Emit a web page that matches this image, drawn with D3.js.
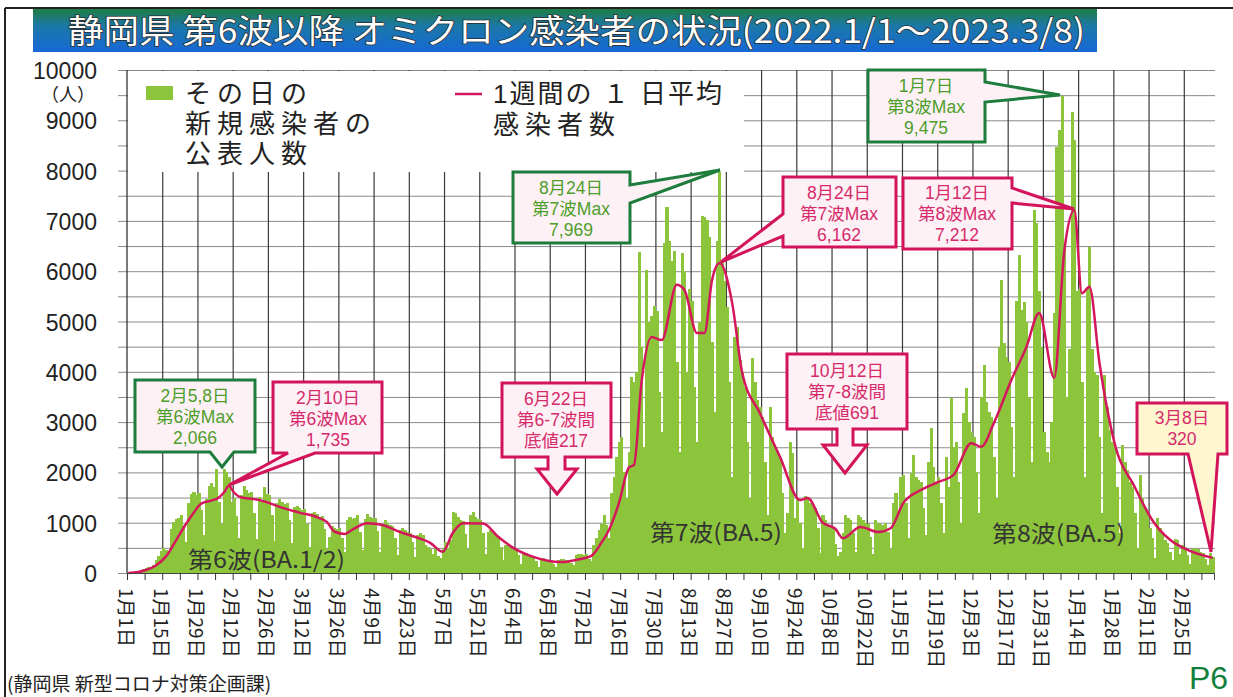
<!DOCTYPE html>
<html lang="ja">
<head>
<meta charset="utf-8">
<script src="https://cdn.jsdelivr.net/npm/d3@7"></script>
<style>
  html, body { margin: 0; padding: 0; background: #fff; }
  svg { display: block; font-family: "Noto Sans CJK JP", "Noto Sans", sans-serif; }
  .tight { font-family: "Liberation Sans", "Noto Sans CJK JP", sans-serif; }
</style>
</head>
<body>
<svg id="chart" width="1233" height="697"></svg>
<script>
// daily new cases from 2022-01-01 (Sat), then Monday-start weeks
const startDate = "2022-01-01";
const dailyCases = [
    5, 8,
    12, 25, 40, 55, 75, 95, 110,               // 1/3
    90, 160, 250, 330, 430, 500, 460,          // 1/10
    420, 880, 1020, 1080, 1100, 1150, 950,     // 1/17
    620, 1400, 1580, 1620, 1560, 1600, 1250,   // 1/24
    760, 1480, 1720, 1780, 1700, 2066, 1420,   // 1/31
    980, 2066, 1999, 1914, 1420, 1500, 1130,   // 2/7
    700, 1560, 1720, 1650, 1600, 1620, 1200,   // 2/14
    680, 1520, 1420, 1700, 1580, 1550, 1150,   // 2/21
    640, 1400, 1480, 1420, 1380, 1400, 1060,   // 2/28
    600, 1320, 1340, 1300, 1260, 1280, 980,    // 3/7
    520, 1200, 1220, 1180, 1120, 1130, 880,    // 3/14
    480, 720, 940, 900, 880, 900, 700,         // 3/21
    420, 1050, 1120, 1080, 1100, 1150, 820,    // 3/28
    450, 1080, 1180, 1120, 1100, 1100, 830,    // 4/4
    420, 980, 1050, 1000, 950, 940, 700,       // 4/11
    360, 850, 900, 860, 820, 800, 610,         // 4/18
    320, 760, 800, 750, 560, 520, 480,         // 4/25
    380, 520, 340, 300, 480, 620, 500,         // 5/2
    650, 1220, 1200, 1120, 1050, 1040, 780,    // 5/9
    480, 1150, 1210, 1120, 1080, 1050, 790,    // 5/16
    380, 820, 850, 800, 760, 740, 520,         // 5/23
    250, 560, 580, 520, 500, 480, 350,         // 5/30
    170, 380, 390, 360, 340, 320, 240,         // 6/6
    110, 270, 290, 230, 220, 240, 170,         // 6/13
    110, 260, 280, 270, 260, 260, 190,         // 6/20
    150, 350, 380, 370, 360, 380, 280,         // 6/27
    230, 560, 700, 850, 980, 1150, 950,        // 7/4
    700, 1600, 1900, 2300, 2600, 2700, 2000,   // 7/11
    1500, 2400, 3900, 3800, 4000, 6380, 4500,  // 7/18
    2500, 6020, 5000, 5100, 5300, 5200, 3600,  // 7/25
    2800, 6560, 7280, 6600, 6200, 6400, 4200,  // 8/1
    2400, 6360, 6000, 4000, 5640, 5400, 3700,  // 8/8
    2600, 5000, 7100, 7080, 7010, 6670, 4600,  // 8/15
    3200, 6600, 7969, 6200, 5800, 5290, 3800,  // 8/22
    1900, 4700, 4900, 4230, 4000, 3700, 2600,  // 8/29
    1500, 4270, 3800, 3440, 3300, 3100, 2200,  // 9/5
    1150, 3300, 2700, 2500, 2400, 2300, 1600,  // 9/12
    800, 1200, 2600, 2390, 1100, 1500, 1000,   // 9/19
    500, 1530, 1500, 1400, 1350, 1300, 900,    // 9/26
    400, 1150, 1050, 950, 900, 880, 580,       // 10/3
    330, 420, 800, 1150, 1100, 1050, 800,      // 10/10
    420, 1150, 1120, 1050, 1000, 980, 720,     // 10/17
    380, 1050, 1000, 980, 950, 1000, 820,      // 10/24
    480, 1400, 1600, 1200, 1900, 1950, 1400,   // 10/31
    700, 1990, 2340, 1900, 1850, 1800, 1300,   // 11/7
    750, 2200, 2880, 2100, 1800, 1900, 1400,   // 11/14
    800, 2300, 1700, 3480, 2500, 2600, 1800,   // 11/21
    1000, 3180, 3680, 3000, 2800, 2700, 2000,  // 11/28
    1200, 3500, 4130, 3400, 3200, 3100, 2300,  // 12/5
    1500, 4500, 5820, 4570, 4300, 4200, 2900,  // 12/12
    1900, 5400, 6320, 5230, 5380, 5000, 3500,  // 12/19
    2200, 7210, 6960, 5600, 4500, 2800, 2400,  // 12/26
    2200, 3000, 5170, 8470, 8800, 9475, 6500,  // 1/2
    3500, 4450, 9170, 8600, 5600, 5650, 3800,  // 1/9
    1900, 5650, 6480, 4450, 4000, 3940, 2700,  // 1/16
    1200, 3940, 3300, 2840, 2600, 2500, 1700,  // 1/23
    800, 2540, 2200, 2040, 1800, 1700, 1200,   // 1/30
    500, 1950, 1500, 1300, 1200, 900, 700,     // 2/6
    300, 1100, 900, 780, 650, 600, 420,        // 2/13
    250, 680, 650, 380, 550, 520, 350,         // 2/20
    180, 480, 500, 470, 420, 400, 280,         // 2/27
    150, 400, 320                              // 3/6
];

// 7-day average
const avgDates = [
    "2022-01-01", "2022-01-05", "2022-01-08", "2022-01-12", "2022-01-16", "2022-01-20",
    "2022-01-23", "2022-01-27", "2022-01-30", "2022-02-03", "2022-02-06", "2022-02-08",
    "2022-02-10", "2022-02-12", "2022-02-15", "2022-02-20", "2022-02-25", "2022-03-03",
    "2022-03-10", "2022-03-17", "2022-03-21", "2022-03-24", "2022-03-28", "2022-03-31",
    "2022-04-06", "2022-04-12", "2022-04-19", "2022-04-26", "2022-05-01", "2022-05-06",
    "2022-05-10", "2022-05-14", "2022-05-22", "2022-05-28", "2022-06-03", "2022-06-11",
    "2022-06-22", "2022-06-28", "2022-07-04", "2022-07-08", "2022-07-11", "2022-07-15",
    "2022-07-19", "2022-07-21", "2022-07-24", "2022-07-28", "2022-08-01", "2022-08-07",
    "2022-08-10", "2022-08-15", "2022-08-18", "2022-08-21", "2022-08-24", "2022-08-29",
    "2022-09-02", "2022-09-09", "2022-09-17", "2022-09-25", "2022-09-28", "2022-10-04",
    "2022-10-09", "2022-10-12", "2022-10-19", "2022-10-26", "2022-10-31", "2022-11-05",
    "2022-11-12", "2022-11-19", "2022-11-25", "2022-12-02", "2022-12-06", "2022-12-11",
    "2022-12-18", "2022-12-24", "2022-12-29", "2023-01-04", "2023-01-08", "2023-01-12",
    "2023-01-15", "2023-01-18", "2023-01-22", "2023-01-28", "2023-02-05", "2023-02-12",
    "2023-02-19", "2023-02-26", "2023-03-08"
];
const avgValues = [
    0, 20, 60, 150, 330, 650,
    900, 1200, 1380, 1440, 1500, 1600,
    1735, 1600, 1500, 1470, 1410, 1300,
    1200, 1110, 1010, 820, 775, 860,
    990, 955, 815, 700, 600, 420,
    800, 990, 985, 720, 500, 320,
    217, 260, 340, 600, 850, 1390,
    2100, 2150, 3800, 4690, 4630, 5730,
    5630, 4770, 4770, 5820, 6162, 5370,
    3980, 3180, 2310, 1450, 1490, 1000,
    880, 691, 915, 815, 890, 1390,
    1650, 1810, 1950, 2580, 2510, 2980,
    3840, 4500, 5170, 3880, 6400, 7212,
    5560, 5690, 4170, 2580, 1710, 1050,
    660, 460, 300
];

const yLabels = [0, 1000, 2000, 3000, 4000, 5000, 6000, 7000, 8000, 9000, 10000];
const tickLabels = [
    "1月1日", "1月15日", "1月29日", "2月12日", "2月26日", "3月12日", "3月26日", "4月9日",
    "4月23日", "5月7日", "5月21日", "6月4日", "6月18日", "7月2日", "7月16日", "7月30日",
    "8月13日", "8月27日", "9月10日", "9月24日", "10月8日", "10月22日", "11月5日", "11月19日",
    "12月3日", "12月17日", "12月31日", "1月14日", "1月28日", "2月11日", "2月25日"
];

const barColor = "#8cc43c";
const lineColor = "#d4175c";
const pink = "#d4145a";
const green = "#1e7d3c";

const svg = d3.select("#chart");
const plotL = 127, plotR = 1214, plotT = 70, plotB = 573;

const x = d3.scaleLinear().domain([0, dailyCases.length]).range([plotL, plotR]);
const y = d3.scaleLinear().domain([0, 10000]).range([plotB, plotT]);
const parse = d3.timeParse("%Y-%m-%d");
const t0 = parse(startDate);

// frame and title
svg.append("line").attr("x1", 5).attr("x2", 1233).attr("y1", 8).attr("y2", 8)
    .attr("stroke", "#222").attr("stroke-width", 2);
svg.append("line").attr("x1", 5).attr("x2", 5).attr("y1", 8).attr("y2", 697)
    .attr("stroke", "#222").attr("stroke-width", 2);

const grad = svg.append("defs").append("linearGradient")
    .attr("id", "banner").attr("x1", 0).attr("x2", 0).attr("y1", 0).attr("y2", 1);
grad.append("stop").attr("offset", "0%").attr("stop-color", "#1f7d45");
grad.append("stop").attr("offset", "40%").attr("stop-color", "#1b78a8");
grad.append("stop").attr("offset", "100%").attr("stop-color", "#1768d6");

svg.append("rect").attr("x", 33).attr("y", 9).attr("width", 1064).attr("height", 43)
    .attr("fill", "url(#banner)");
svg.append("text")
    .attr("x", 68).attr("y", 43)
    .attr("font-size", 33)
    .attr("fill", "#fff")
    .attr("stroke", "#2a2a2a").attr("stroke-width", 1.5)
    .attr("paint-order", "stroke")
    .attr("textLength", 1017).attr("lengthAdjust", "spacingAndGlyphs")
    .text("静岡県 第6波以降 オミクロン感染者の状況(2022.1/1～2023.3/8)");

// grid
svg.append("g")
    .attr("transform", `translate(118,0)`)
    .call(d3.axisLeft(y).tickValues(d3.range(0, 10001, 500)).tickSize(-(plotR + 1 - 118)).tickFormat(""))
    .call(g => g.select(".domain").remove())
    .call(g => g.selectAll("line").attr("stroke", "#8a8a8a").attr("stroke-width", 1));

svg.append("g")
    .attr("transform", `translate(0,${plotB})`)
    .call(d3.axisBottom(x).tickValues(d3.range(14, 421, 14)).tickSize(-(plotB - plotT)).tickFormat(""))
    .call(g => g.select(".domain").remove())
    .call(g => g.selectAll("line").attr("stroke", "#3a3a3a").attr("stroke-width", 1.2));

// bars
svg.append("g")
    .attr("shape-rendering", "crispEdges")
    .selectAll("rect")
    .data(dailyCases)
    .join("rect")
    .attr("x", (d, i) => x(i))
    .attr("y", d => y(d))
    .attr("width", (d, i) => x(i + 1) - x(i) + 0.6)
    .attr("height", d => plotB - y(d))
    .attr("fill", barColor);

// average line
const avgData = avgDates.map((d, i) => ({ day: d3.timeDay.count(t0, parse(d)), v: avgValues[i] }));
svg.append("path")
    .datum(avgData)
    .attr("fill", "none")
    .attr("stroke", lineColor)
    .attr("stroke-width", 2.5)
    .attr("stroke-linejoin", "round")
    .attr("d", d3.line().x(d => x(d.day + 0.5)).y(d => y(d.v)).curve(d3.curveMonotoneX));

// axes
svg.append("line").attr("x1", plotL).attr("x2", plotL).attr("y1", plotT).attr("y2", plotB)
    .attr("stroke", "#333").attr("stroke-width", 1.3);
svg.append("g")
    .attr("transform", `translate(0,${plotB})`)
    .call(d3.axisBottom(x).tickValues(d3.range(0, 432, 7)).tickSize(7).tickFormat(""))
    .call(g => g.select(".domain").attr("stroke", "#444"))
    .call(g => g.selectAll("line").attr("stroke", "#333"));

svg.append("g")
    .selectAll("text")
    .data(tickLabels)
    .join("text")
    .attr("transform", (d, i) => `translate(${x(i * 14)},588) rotate(90)`)
    .attr("dominant-baseline", "central")
    .attr("font-size", 19)
    .attr("fill", "#222")
    .text(d => d);

const yText = svg.append("g")
    .selectAll("text")
    .data(yLabels)
    .join("text")
    .attr("class", "tight")
    .attr("x", 97)
    .attr("y", d => y(d) + 1)
    .attr("text-anchor", "end")
    .attr("dominant-baseline", "central")
    .attr("font-size", 23)
    .attr("fill", "#222")
    .text(d => d);
// unit sits under the top label, as part of the same text
yText.filter(d => d === 10000)
    .append("tspan")
    .attr("x", 95).attr("dy", 24)
    .attr("font-size", 18)
    .text("（人）");

// legend
svg.append("rect").attr("x", plotL + 1).attr("y", plotT + 1).attr("width", 616).attr("height", 101)
    .attr("fill", "#fff");
svg.append("rect").attr("x", 146).attr("y", 86).attr("width", 27).attr("height", 14).attr("fill", barColor);
const leg1 = svg.append("text").attr("class", "tight").attr("font-size", 26).attr("fill", "#222");
[["その日の", 103, 6], ["新規感染者の", 133, 6], ["公表人数", 163, 6]].forEach(([t, by, ls]) => {
    leg1.append("tspan").attr("x", 185).attr("y", by).attr("letter-spacing", ls).text(t);
});
svg.append("line").attr("x1", 455).attr("x2", 482).attr("y1", 94).attr("y2", 94)
    .attr("stroke", lineColor).attr("stroke-width", 2.5);
const leg2 = svg.append("text").attr("class", "tight").attr("font-size", 26).attr("fill", "#222");
[["1週間の １ 日平均", 103, 2], ["感染者数", 134, 6]].forEach(([t, by, ls]) => {
    leg2.append("tspan").attr("x", 493).attr("y", by).attr("letter-spacing", ls).text(t);
});

// wave labels
[["第6波(BA.1/2)", 188, 558, 157], ["第7波(BA.5)", 650, 531, 132], ["第8波(BA.5)", 992, 532, 133]]
    .forEach(([t, lx, cy, len]) => {
        svg.append("text").attr("x", lx).attr("y", cy).attr("dominant-baseline", "central")
            .attr("font-size", 23).attr("fill", "#333")
            .attr("textLength", len).attr("lengthAdjust", "spacingAndGlyphs").text(t);
    });

// callouts
function callout(d, fill, stroke, textColor, cx, firstY, lines) {
    const g = svg.append("g");
    g.append("path").attr("d", d).attr("fill", fill).attr("stroke", stroke)
        .attr("stroke-width", 3).attr("stroke-linejoin", "miter");
    const t = g.append("text")
        .attr("class", "tight")
        .attr("text-anchor", "middle")
        .attr("font-size", 17.5).attr("fill", textColor);
    lines.forEach((s, i) => {
        t.append("tspan").attr("x", cx).attr("y", firstY + i * 21).text(s);
    });
}
const boxFill = "#fdf1f6";
const gText = "#4e9e2a", pText = "#d62a6b";

callout("M135,380 H255 V452 H234 L222,467 L210,452 H135 Z", boxFill, green, gText, 195, 402,
    ["2月5,8日", "第6波Max", "2,066"]);
callout("M273,382 H382 V453 H315 L229,485 L288,453 H273 Z", boxFill, pink, pText, 328, 404,
    ["2月10日", "第6波Max", "1,735"]);
callout("M513,172 H630 V185 L720,170 L630,203 V243 H513 Z", boxFill, green, gText, 571, 194,
    ["8月24日", "第7波Max", "7,969"]);
callout("M783,177 H896 V247 H783 V236 L721,262 L783,214 Z", boxFill, pink, pText, 839, 199,
    ["8月24日", "第7波Max", "6,162"]);
callout("M868,70 H985 V82 L1060,95 L985,102 V142 H868 Z", boxFill, green, gText, 926, 92,
    ["1月7日", "第8波Max", "9,475"]);
callout("M903,178 H1012 V188 L1074,209 L1012,203 V249 H903 Z", boxFill, pink, pText, 957, 199,
    ["1月12日", "第8波Max", "7,212"]);
callout("M502,383 H611 V457 H565 V469 H577 L557,494 L537,469 H548 V457 H502 Z", boxFill, pink, pText, 556, 405,
    ["6月22日", "第6-7波間", "底値217"]);
callout("M787,354 H907 V429 H853 V445 H867 L845,473 L823,445 H837 V429 H787 Z", boxFill, pink, pText, 847, 377,
    ["10月12日", "第7-8波間", "底値691"]);
callout("M1137,403 H1227 V454 H1218 L1211,552 L1188,454 H1137 Z", "#fdf6cf", pink, pText, 1182, 424,
    ["3月8日", "320"]);

// footer
svg.append("text").attr("x", 7).attr("y", 691)
    .attr("font-size", 19).attr("fill", "#222").text("(静岡県 新型コロナ対策企画課)");
svg.append("text").attr("x", 1189).attr("y", 689)
    .attr("class", "tight")
    .attr("font-size", 32).attr("fill", "#12803a").text("P6");
</script>
</body>
</html>
